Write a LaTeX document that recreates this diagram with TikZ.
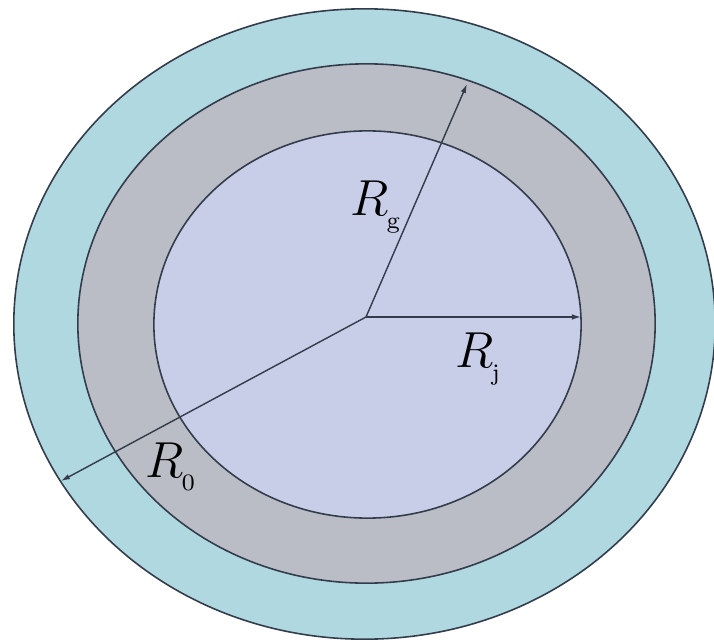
\documentclass[tikz,border=0pt]{standalone}
\usetikzlibrary{arrows.meta}
\definecolor{ringblue}{RGB}{176,216,224}
\definecolor{ringgray}{RGB}{186,189,197}
\definecolor{corelav}{RGB}{201,206,232}
\definecolor{edgegray}{RGB}{50,60,75}
\newcommand\radlabel[1]{$R$\kern-0.6pt\raisebox{-3.9pt}{\fontsize{6.7}{8}\selectfont #1}}

\begin{document}
\begin{tikzpicture}[x=0.01cm, y=-0.01cm,
  every node/.style={font=\fontsize{13.7}{16}\selectfont, inner sep=0pt, anchor=base west},
  ring/.style={draw=edgegray, line width=0.45pt},
  radius arrow/.style={edgegray, line width=0.4pt, -{Latex[length=0.9mm,width=0.55mm]}}]
  \useasboundingbox (0,0) rectangle (714,642);
  \fill[white] (0,0) rectangle (714,642);
  % --- layers, outside in ---
  \filldraw[ring, fill=ringblue] (364.5,324) ellipse [x radius=3.505cm, y radius=3.15cm];
  \filldraw[ring, fill=ringgray] (366.5,323.5) ellipse [x radius=2.885cm, y radius=2.595cm];
  \filldraw[ring, fill=corelav]  (367.5,324.5) ellipse [x radius=2.135cm, y radius=1.935cm];
  % --- radii ---
  \coordinate (O) at (366,317);
  \coordinate (Rjtip) at (581,317);
  \coordinate (Rgtip) at (467,84);
  \coordinate (Rotip) at (61,481);
  \draw[radius arrow] (O) -- (Rjtip);
  \draw[radius arrow] (O) -- (Rgtip);
  \draw[radius arrow] (O) -- (Rotip);
  % --- labels ---
  \node (Rg) at (350,215) {\radlabel{g}};
  \node (Rj) at (455,367) {\radlabel{j}};
  \node (Ro) at (145,477) {\radlabel{0}};
\end{tikzpicture}
\end{document}
